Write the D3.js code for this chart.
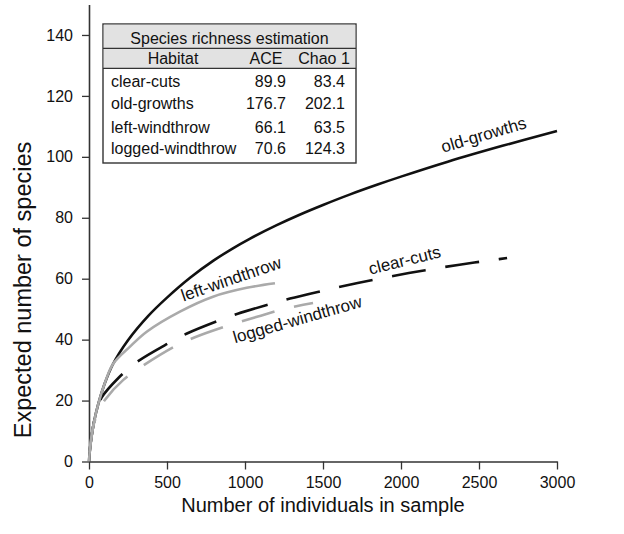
<!DOCTYPE html>
<html>
<head>
<meta charset="utf-8">
<script src="https://cdn.jsdelivr.net/npm/d3@7"></script>
<style>
  html, body { margin: 0; padding: 0; background: #fff; }
  svg { display: block; font-family: "Liberation Sans", Arial, sans-serif; }
</style>
</head>
<body>
<svg id="chart" width="624" height="534"></svg>
<script>
// ---------- data ----------
const xTicks = [0, 500, 1000, 1500, 2000, 2500, 3000];
const yTicks = [0, 20, 40, 60, 80, 100, 120, 140];

// rarefaction curves: [individuals, expected species]
const oldGrowths = [[0,0],[10,6],[30,12.5],[60,19],[100,25.5],[154,32],[250,39.8],[380,47.8],[500,53.8],[650,60.4],[800,66],[920,69.9],[1030,73.1],[1200,77.5],[1350,81],[1500,84.2],[1670,87.6],[1850,90.9],[2000,93.5],[2300,98.4],[2650,103.6],[3000,108.5]];
const clearCuts = [[0,0],[5,3.5],[16,8],[32,13],[54,17.5],[81,21],[190,27.5],[303,32.5],[509,38.8],[628,42],[829,46.2],[953,48.5],[1170,51.8],[1289,53.5],[1495,56],[1625,57.5],[1820,59.6],[1950,60.9],[2156,62.8],[2275,63.8],[2470,65.3],[2600,66.2],[2680,66.8]];
const leftWindthrow = [[0,0],[10,6],[30,12.5],[60,19],[100,25.5],[154,32],[263,37.7],[370,42.6],[583,49.2],[795,54.1],[1011,57],[1192,58.5]];
const loggedWindthrow = [[0,0],[5,3.5],[16,8],[32,12.5],[65,17],[103,20.3],[220,26.8],[348,31.5],[551,37.8],[679,40.8],[883,44.5],[1083,47.6],[1246,50],[1436,52]];

// table
const tableTitle = "Species richness estimation";
const tableHeader = ["Habitat", "ACE", "Chao 1"];
const habitats = ["clear-cuts", "old-growths", "left-windthrow", "logged-windthrow"];
const aceValues = ["89.9", "176.7", "66.1", "70.6"];
const chaoValues = ["83.4", "202.1", "63.5", "124.3"];

// ---------- layout ----------
const svg = d3.select("#chart");
const x = d3.scaleLinear().domain([0, 3000]).range([89, 557]);
const y = d3.scaleLinear().domain([0, 150]).range([461.5, 4.5]);

// axes
const axisColor = "#333";
const gx = svg.append("g").attr("transform", `translate(0,${y(0)})`)
  .call(d3.axisBottom(x).tickValues(xTicks).tickFormat(d3.format("d")).tickSize(8).tickPadding(7).tickSizeOuter(0));
const gy = svg.append("g").attr("transform", `translate(${x(0)},0)`)
  .call(d3.axisLeft(y).tickValues(yTicks).tickFormat(d3.format("d")).tickSize(7).tickPadding(9).tickSizeOuter(0));
[gx, gy].forEach(g => {
  g.select(".domain").attr("stroke", axisColor).attr("stroke-width", 1.6);
  g.selectAll(".tick line").attr("stroke", axisColor).attr("stroke-width", 1.3);
  g.selectAll(".tick text").attr("fill", "#111").attr("font-size", 16)
    .attr("font-family", "'Liberation Sans', Arial, sans-serif");
});

svg.append("text")
  .attr("x", (x(0) + x(3000)) / 2).attr("y", 512)
  .attr("text-anchor", "middle").attr("font-size", 20).attr("fill", "#111")
  .text("Number of individuals in sample");
svg.append("text")
  .attr("transform", `translate(31,${290}) rotate(-90)`)
  .attr("text-anchor", "middle").attr("font-size", 23.5).attr("fill", "#111")
  .text("Expected number of species");

// curves
const line = d3.line().x(d => x(d[0])).y(d => y(d[1])).curve(d3.curveCatmullRom.alpha(0.5));
const series = [
  { data: oldGrowths, color: "#111", dash: null },
  { data: clearCuts, color: "#111", dash: "34,20" },
  { data: leftWindthrow, color: "#aaaaaa", dash: null },
  { data: loggedWindthrow, color: "#aaaaaa", dash: "34,20" }
];
series.forEach(s => {
  svg.append("path").datum(s.data)
    .attr("d", line).attr("fill", "none")
    .attr("stroke", s.color).attr("stroke-width", 2.6)
    .attr("stroke-dasharray", s.dash)
    .attr("stroke-dashoffset", s.dash ? -9 : null);
});

// curve labels
const curveLabels = [
  { text: "old-growths", n: 2540, s: 105.4, angle: -16.5 },
  { text: "clear-cuts", n: 2032, s: 64.2, angle: -14 },
  { text: "left-windthrow", n: 923, s: 58.1, angle: -19 },
  { text: "logged-windthrow", n: 1346, s: 44.8, angle: -16 }
];
curveLabels.forEach(l => {
  svg.append("text")
    .attr("transform", `translate(${x(l.n)},${y(l.s)}) rotate(${l.angle})`)
    .attr("text-anchor", "middle").attr("font-size", 17).attr("fill", "#111")
    .text(l.text);
});

// table
const tb = { x0: 103, y0: 24, x1: 356, y1: 163, r1: 48.3, r2: 68.3 };
const tg = svg.append("g");
tg.append("rect").attr("x", tb.x0).attr("y", tb.y0).attr("width", tb.x1 - tb.x0).attr("height", tb.y1 - tb.y0)
  .attr("fill", "#fff").attr("stroke", "#333").attr("stroke-width", 1.4);
tg.append("rect").attr("x", tb.x0 + 0.7).attr("y", tb.y0 + 0.7).attr("width", tb.x1 - tb.x0 - 1.4).attr("height", tb.r2 - tb.y0 - 0.7)
  .attr("fill", "#e2e2e2");
[tb.r1, tb.r2].forEach(ry => {
  tg.append("line").attr("x1", tb.x0).attr("x2", tb.x1).attr("y1", ry).attr("y2", ry)
    .attr("stroke", "#333").attr("stroke-width", 1.2);
});
tg.append("text").attr("x", (tb.x0 + tb.x1) / 2).attr("y", 43.5).attr("text-anchor", "middle")
  .attr("font-size", 16).attr("fill", "#111").text(tableTitle);
const colX = [173, 266, 324];
tableHeader.forEach((h, i) => {
  tg.append("text").attr("x", colX[i]).attr("y", 64.3).attr("text-anchor", "middle")
    .attr("font-size", 16).attr("fill", "#111").text(h);
});
const rowY = [87, 109.4, 132.5, 154.3];
habitats.forEach((h, i) => {
  tg.append("text").attr("x", 111).attr("y", rowY[i]).attr("font-size", 16).attr("fill", "#111").text(h);
  tg.append("text").attr("x", 286).attr("y", rowY[i]).attr("text-anchor", "end").attr("font-size", 16).attr("fill", "#111").text(aceValues[i]);
  tg.append("text").attr("x", 345).attr("y", rowY[i]).attr("text-anchor", "end").attr("font-size", 16).attr("fill", "#111").text(chaoValues[i]);
});
</script>
</body>
</html>
